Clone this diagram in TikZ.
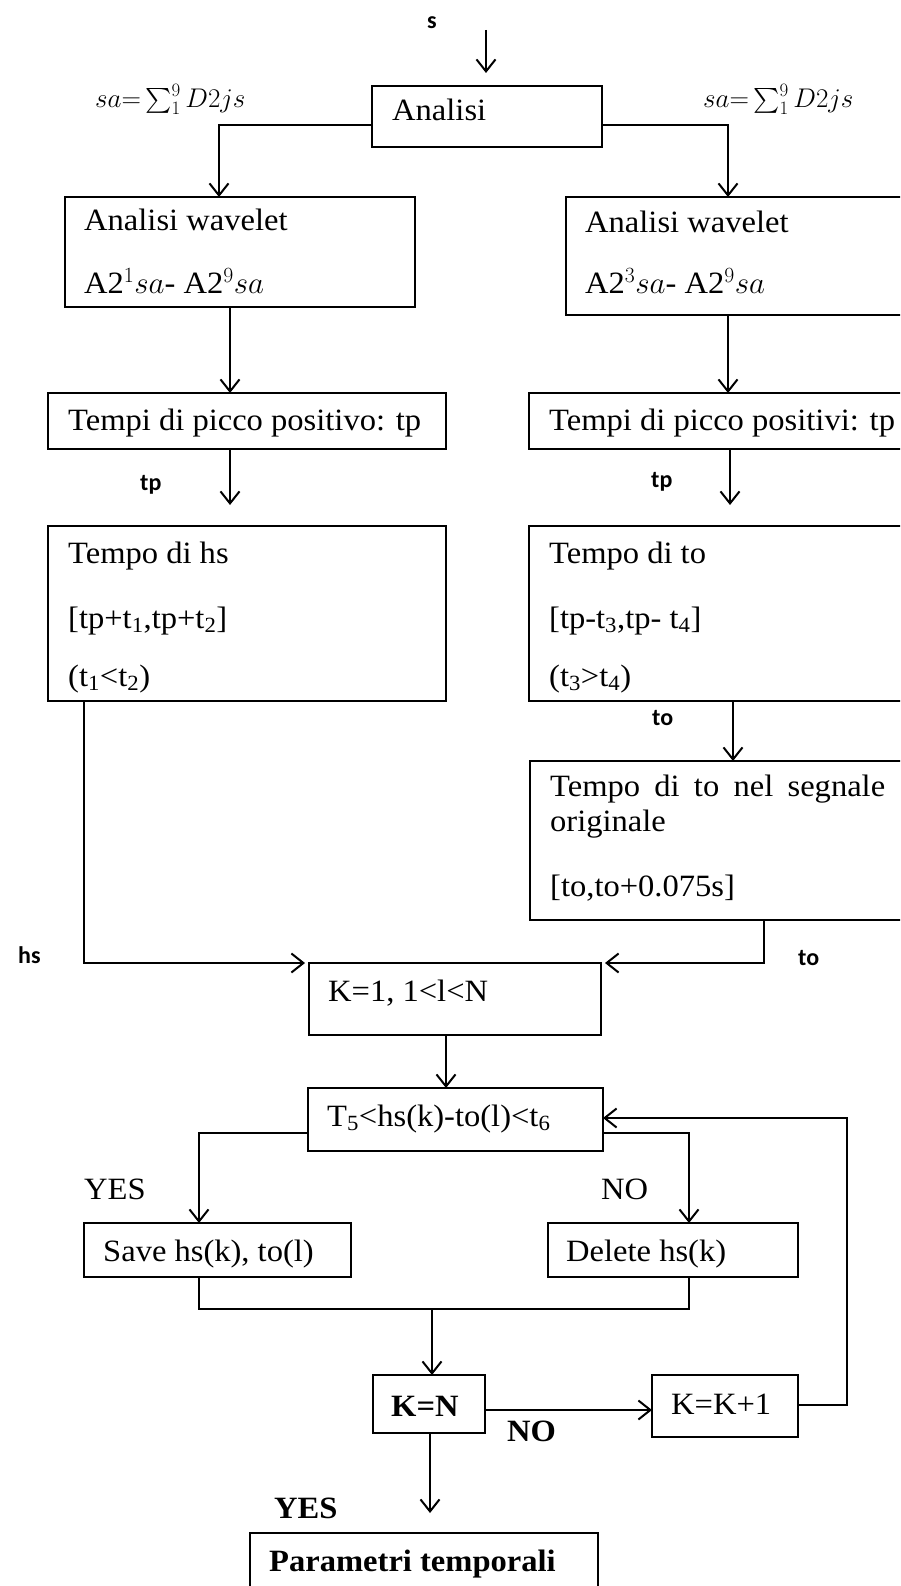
\RequirePackage{fix-cm}
\documentclass[tikz,border=0pt]{standalone}
\usepackage{amsmath}
\usepackage{fontspec}
\setmainfont{Liberation Serif}[FakeStretch=1.05]
\newfontfamily\labfamily{Carlito}
\usetikzlibrary{arrows.meta,calc}
\newcommand\bodyfont{\fontsize{31}{36}\selectfont}
\newcommand\mathlblfont{\fontsize{27}{32}\selectfont}
\newcommand\lblfont{\labfamily\bfseries\fontsize{24}{28}\selectfont}
\tikzset{
  bx/.style={draw, line width=2.6pt, anchor=north west, inner sep=0pt, outer sep=0pt},
  ln/.style={line width=2pt},
  arr/.style={line width=2pt, -{Straight Barb[length=12pt,width=19pt,line width=2pt]}},
  txt/.style={anchor=base west, inner sep=0pt, font=\bodyfont},
  btxt/.style={anchor=base west, inner sep=0pt, font=\bodyfont\bfseries},
  mtxt/.style={anchor=base west, inner sep=0pt, font=\mathlblfont},
  lbl/.style={anchor=base west, inner sep=0pt, font=\lblfont},
}
\begin{document}
\begin{tikzpicture}[x=1pt,y=-1pt]
\useasboundingbox (0,0) rectangle (900,1586);
\clip (0,0) rectangle (900,1586);
\fill[white] (0,0) rectangle (900,1586);

% boxes
\node[bx,minimum width=230pt,minimum height=61pt]  (analisi) at (372,86) {};
\node[bx,minimum width=350pt,minimum height=110pt] (awL) at (65,197) {};
\node[bx,minimum width=360pt,minimum height=118pt] (awR) at (566,197) {};
\node[bx,minimum width=398pt,minimum height=56pt]  (tpL) at (48,393) {};
\node[bx,minimum width=390pt,minimum height=56pt]  (tpR) at (529,393) {};
\node[bx,minimum width=398pt,minimum height=175pt] (thsL) at (48,526) {};
\node[bx,minimum width=390pt,minimum height=175pt] (ttoR) at (529,526) {};
\node[bx,minimum width=390pt,minimum height=159pt] (seg) at (530,761) {};
\node[bx,minimum width=292pt,minimum height=72pt]  (k1) at (309,963) {};
\node[bx,minimum width=295pt,minimum height=63pt]  (t5) at (308,1088) {};
\node[bx,minimum width=267pt,minimum height=54pt]  (save) at (84,1223) {};
\node[bx,minimum width=250pt,minimum height=54pt]  (del) at (548,1223) {};
\node[bx,minimum width=112pt,minimum height=58pt]  (kn) at (373,1375) {};
\node[bx,minimum width=146pt,minimum height=62pt]  (kk) at (652,1375) {};
\node[bx,minimum width=348pt,minimum height=90pt]  (par) at (250,1533) {};

% texts in boxes
\node[txt] (tAnalisi) at (392,121) {Analisi};
\node[txt] (tawL1) at (84,231) {Analisi wavelet};
\node[txt] (tawL2) at (84,294) {A2$^{1}sa$- A2$^{9}sa$};
\node[txt] (tawR1) at (585,233) {Analisi wavelet};
\node[txt] (tawR2) at (585,294) {A2$^{3}sa$- A2$^{9}sa$};
\node[txt] (ttpL) at (68,430) {Tempi di picco positivo: tp};
\node[txt] (ttpR) at (549,430) {Tempi di picco positivi: tp};
\node[txt] (thsL1) at (68,563) {Tempo di hs};
\node[txt] (thsL2) at (68,628) {[tp+t\textsubscript{1},tp+t\textsubscript{2}]};
\node[txt] (thsL3) at (68,686) {(t\textsubscript{1}<t\textsubscript{2})};
\node[txt] (ttoR1) at (549,563) {Tempo di to};
\node[txt] (ttoR2) at (549,628) {[tp-t\textsubscript{3},tp- t\textsubscript{4}]};
\node[txt] (ttoR3) at (549,686) {(t\textsubscript{3}>t\textsubscript{4})};
\node[txt] (tseg1) at (550,796) {\makebox[335pt][s]{Tempo di to nel segnale}};
\node[txt] (tseg2) at (550,831) {originale};
\node[txt] (tseg3) at (550,896) {[to,to+0.075s]};
\node[txt] (tk1) at (328,1001) {K=1, 1<l<N};
\node[txt] (tt5) at (327,1126) {T\textsubscript{5}<hs(k)-to(l)<t\textsubscript{6}};
\node[txt] (tsave) at (103,1261) {Save hs(k), to(l)};
\node[txt] (tdel) at (566,1261) {Delete hs(k)};
\node[btxt] (tkn) at (391,1416) {K=N};
\node[txt] (tkk) at (671,1414) {K=K+1};
\node[btxt] (tpar) at (269,1571) {Parametri temporali};

% free labels
\node[lbl] (ls) at (427,29) {s};
\node[mtxt] (lsaL) at (95,108) {$sa{=}\sum\nolimits_1^9 D2js$};
\node[mtxt] (lsaR) at (703,108) {$sa{=}\sum\nolimits_1^9 D2js$};
\node[lbl] (ltpL) at (140,490) {tp};
\node[lbl] (ltpR) at (651,487) {tp};
\node[lbl] (lto1) at (652,725) {to};
\node[lbl] (lto2) at (798,965) {to};
\node[lbl] (lhs) at (18,963) {hs};
\node[txt] (lyes1) at (84,1199) {YES};
\node[txt] (lno1) at (601,1199) {NO};
\node[btxt] (lno2) at (507,1441) {NO};
\node[btxt] (lyes2) at (274,1518) {YES};

% connector helpers
\coordinate (sTop) at (486,30);
\coordinate (sTip) at (486,73);
\coordinate (cL) at (219,125);
\coordinate (cR) at (728,125);
\coordinate (x1) at (230,0);
\coordinate (x2) at (730,0);
\coordinate (x3) at (733,0);
\coordinate (x4) at (446,0);
\coordinate (hL) at (84,963);
\coordinate (hR) at (764,963);
\coordinate (yl) at (199,1133);
\coordinate (yr) at (689,1133);
\coordinate (m1) at (199,1309);
\coordinate (m2) at (689,1309);
\coordinate (mm) at (432,1309);
\coordinate (yk) at (0,1410);
\coordinate (fb1) at (847,1405);
\coordinate (fb2) at (847,1118);
\coordinate (xp) at (430,0);

% connectors
\draw[arr] (sTop) -- (sTip);
\draw[arr] (analisi.west |- cL) -- (cL) -- (cL |- awL.north);
\draw[arr] (analisi.east |- cR) -- (cR) -- (cR |- awR.north);
\draw[arr] (awL.south -| x1) -- (tpL.north -| x1);
\draw[arr] (awR.south -| cR) -- (tpR.north -| cR);
\draw[arr] (tpL.south -| x1) -- ($(thsL.north -| x1)+(0,-21)$);
\draw[arr] (tpR.south -| x2) -- ($(ttoR.north -| x2)+(0,-21)$);
\draw[arr] (ttoR.south -| x3) -- (seg.north -| x3);
\draw[arr] (thsL.south -| hL) -- (hL) -- ($(k1.north west)+(-4,0)$);
\draw[arr] (seg.south -| hR) -- (hR) -- ($(k1.north east)+(4,0)$);
\draw[arr] (k1.south -| x4) -- (t5.north -| x4);
\draw[arr] (t5.west |- yl) -- (yl) -- (yl |- save.north);
\draw[arr] (t5.east |- yr) -- (yr) -- (yr |- del.north);
\draw[ln] (save.south -| m1) -- (m1) -- (m2) -- (del.south -| m2);
\draw[arr] (mm) -- (kn.north -| mm);
\draw[arr] (kn.east |- yk) -- (kk.west |- yk);
\draw[arr] (kk.east |- fb1) -- (fb1) -- (fb2) -- (t5.east |- fb2);
\draw[arr] (kn.south -| xp) -- ($(par.north -| xp)+(0,-20)$);
\end{tikzpicture}
\end{document}
